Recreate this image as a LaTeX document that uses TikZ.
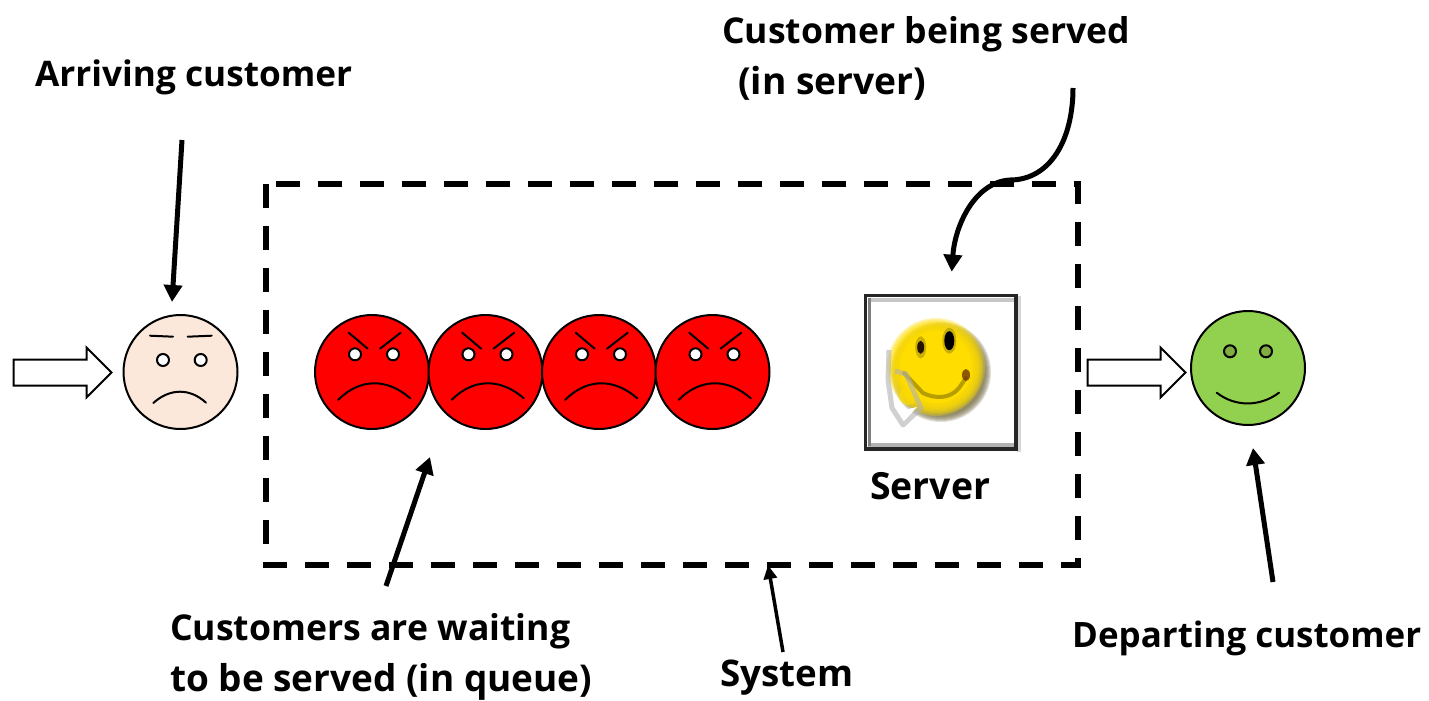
\documentclass[tikz,border=0pt]{standalone}
\usepackage{fontspec}
\setmainfont{Open Sans}[BoldFont={* Bold}]
\usetikzlibrary{arrows.meta,shapes.arrows}
\definecolor{sadskin}{HTML}{FBE8DA}
\definecolor{angry}{HTML}{FF0000}
\definecolor{happy}{HTML}{92D050}
\definecolor{happyeye}{HTML}{7FAD40}
\definecolor{iconyellow}{HTML}{FFDD00}
\definecolor{iconshadow}{HTML}{7D7650}
\newcommand{\fitline}[2]{\resizebox{#1pt}{!}{#2}}
\tikzset{
  x=1pt,y=-1pt,
  label text/.style={inner sep=0pt,anchor=north west,align=left,font=\fontsize{35}{51}\selectfont\bfseries},
  face/.style={circle,draw=black,line width=2pt,minimum size=114pt,inner sep=0pt},
  eye/.style={circle,draw=black,line width=2pt,minimum size=12pt,inner sep=0pt,fill=white},
  feature/.style={line width=2pt,line cap=round},
  hollow/.style={single arrow,draw=black,fill=white,line width=2pt,inner xsep=0pt,inner ysep=12pt,minimum height=98pt,single arrow head extend=12pt,single arrow head indent=0pt,single arrow tip angle=90},
  pointer/.style={line width=5pt,-{Triangle[length=17pt,width=18pt]}},
  thin pointer/.style={line width=3.5pt,-{Triangle[length=14pt,width=13pt]}},
  system box/.style={draw=black,line width=6pt,dash pattern=on 24pt off 18pt}
}
\begin{document}
\begin{tikzpicture}
\useasboundingbox (0,0) rectangle (1429,701);
% system boundary
\node[minimum width=812pt,minimum height=380.5pt,inner sep=0pt] (system) at (672,374.25) {};
\draw[system box] (system.north west) -- (system.south west) -- (system.south east) -- (system.north east) -- cycle;
% arriving customer
\node[face,fill=sadskin] (arriving) at (180.5,372) {};
\node[eye] at (163,360) {};
\node[eye] at (200.7,360) {};
\draw[feature] (150,335.7) -- (173,336.7);
\draw[feature] (187.7,336.7) -- (211.7,335.7);
\draw[feature] (153.3,403) .. controls (170,388) and (190,388) .. (206,402.7);
\node[hollow] (inarrow) at (56,372.5) {};
% queue
\foreach \n/\c in {q1/372,q2/485.5,q3/599,q4/712.5}{
  \node[face,fill=angry] (\n) at (\c,372) {};
  \begin{scope}[xshift=\c pt]
    \node[eye] at (-17,354.3) {};
    \node[eye] at (21,354.3) {};
    \draw[feature] (-23.3,332.7) -- (-4.3,348.7);
    \draw[feature] (28.7,332.7) -- (8,348.7);
    \draw[feature] (-34,400) .. controls (-12,378) and (15,378) .. (38.3,398.3);
  \end{scope}
}
% server
\node[draw=none,fill=white,minimum width=154pt,minimum height=156pt,inner sep=0pt] (server) at (941,372.5) {};
\fill[black!16] (1017,296) rectangle (1021,452);
\fill[black!30] (868,443) rectangle (1015,447);
\fill[black!22] (868,298) rectangle (1015,302);
\fill[black!50] (868,298) rectangle (871,446);
\draw[black!85,line width=3.5pt] (865.5,295.5) rectangle (1016,449);
% icon: soft disc, shadow below and right
\foreach \r in {43,44,...,50}{\fill[iconshadow,opacity=.22] (941,372) circle (\r pt);}
\foreach \r in {37,38.5,...,49}{\fill[iconyellow,opacity=.3] (936,367) circle (\r pt);}
\fill[iconyellow] (936,367) circle (36pt);
\fill[black!45!iconyellow,opacity=.45] (920.7,347.3) ellipse [x radius=5.5pt,y radius=11pt];
\fill[black!85!orange] (920.7,347.3) ellipse [x radius=3.5pt,y radius=6.5pt];
\fill[black!45!iconyellow,opacity=.45] (949.3,340.7) ellipse [x radius=7pt,y radius=13pt];
\fill[black] (949.3,340.7) ellipse [x radius=5pt,y radius=9.5pt];
\draw[black!38!iconyellow,line width=4pt,opacity=.75,line cap=round] (904,373) -- (923,393) .. controls (935,399) and (950,399) .. (959,388) -- (966,378);
\fill[black!55!orange,opacity=.8] (966,375) ellipse [x radius=4pt,y radius=6pt];
\fill[iconyellow,opacity=.6] (908,396) circle (9pt);
\draw[black!30,line width=5pt,line join=round,opacity=.6] (889,350) -- (888,380) -- (892,408) -- (903,425) -- (921,408) -- (906,374) -- (895,371);
\fill[white] (899,411) -- (917,407) -- (904,421) -- cycle;
% server label
\node[label text] (serverlabel) at (870,472) {\fitline{120}{Server}};
% departing
\node[hollow] (outarrow) at (1130,372.5) {};
\node[face,fill=happy] (departing) at (1248,368) {};
\node[eye,fill=happyeye] at (1230,351.3) {};
\node[eye,fill=happyeye] at (1266,351.3) {};
\draw[feature] (1216.7,392.7) .. controls (1235,407) and (1260,407) .. (1279,392.7);
% labels
\node[label text] (arrlabel) at (35,60) {\fitline{317}{Arriving customer}};
\node[label text] (servedlabel) at (722,16) {\fitline{408}{Customer being served}\\\hspace*{16pt}\fitline{188}{(in server)}};
\node[label text] (queuelabel) at (170,613) {\fitline{400}{Customers are waiting}\\\fitline{422}{to be served (in queue)}};
\node[label text] (systemlabel) at (720,660) {\fitline{133}{System}};
\node[label text] (deplabel) at (1072,621) {\fitline{349}{Departing customer}};
% connector ends
\coordinate (a0) at (182,140); \coordinate (a1) at (172,302);
\coordinate (b0) at (1073,88); \coordinate (b1) at (1010,180); \coordinate (b2) at (951.7,271.7);
\coordinate (c0) at (386,586); \coordinate (c1) at (430,457);
\coordinate (d0) at (783,652); \coordinate (d1) at (768,565);
\coordinate (e0) at (1273,582); \coordinate (e1) at (1253,448);
\draw[pointer] (a0) -- (a1);
\draw[pointer] (c0) -- (c1);
\draw[pointer] (e0) -- (e1);
\draw[thin pointer] (d0) -- (d1);
\draw[pointer] (b0) .. controls (1073,140) and (1050,180) .. (b1) .. controls (975,182) and (955,225) .. (b2);
\end{tikzpicture}
\end{document}
